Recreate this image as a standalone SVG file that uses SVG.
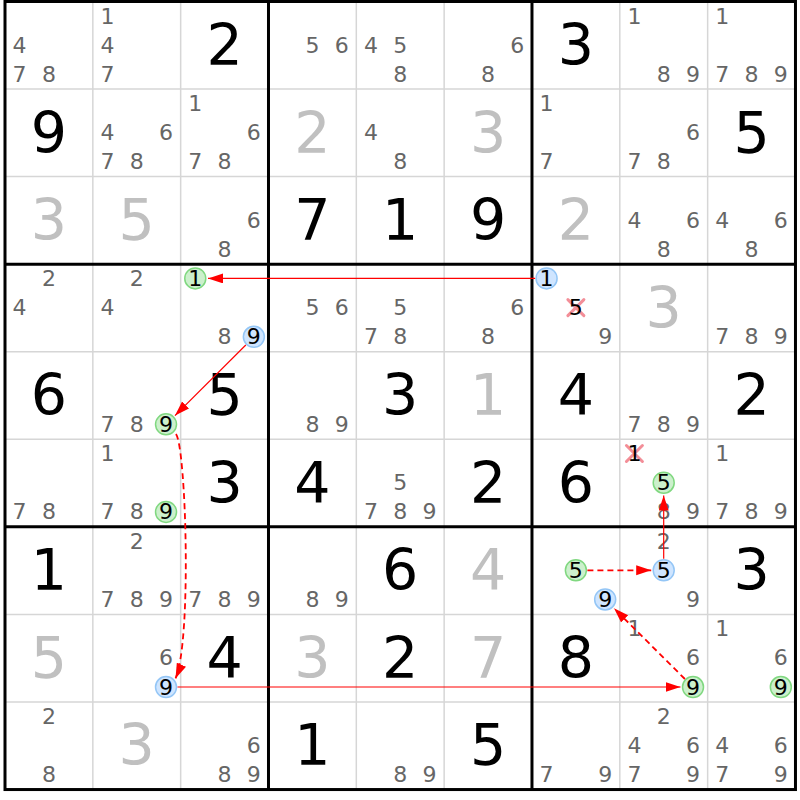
<svg xmlns="http://www.w3.org/2000/svg" width="800" height="800" viewBox="0 0 800 800">
<style>
text{font-family:"DejaVu Sans","Liberation Sans",sans-serif;text-anchor:middle}
.g{font-size:57px;fill:#000}
.s{font-size:57px;fill:#c0c0c0}
.c{font-size:22px;fill:#666}
.k{font-size:22px;fill:#000}
.gc{fill:#ccf0cc;stroke:#80d880;stroke-width:1.5}
.bc{fill:#cfe5ff;stroke:#94c6f6;stroke-width:1.5}
.x{stroke:#f38e98;stroke-width:3;fill:none;stroke-linecap:round}
.thin{stroke:#d6d6d6;stroke-width:1.5}
.thick{stroke:#000;stroke-width:3}
.solid{stroke:#ff0000;stroke-width:1.2;fill:none;marker-end:url(#ah)}
.dash{stroke:#ff0000;stroke-width:1.8;fill:none;stroke-dasharray:6 4;marker-end:url(#ah)}
</style>
<defs>
<marker id="ah" markerUnits="userSpaceOnUse" markerWidth="16" markerHeight="11" refX="15" refY="5" orient="auto" viewBox="0 0 16 11">
<path d="M0,0 L15,5 L0,10 z" fill="#ff0000"/>
</marker>
</defs>
<rect width="800" height="800" fill="#fff"/>
<g id="grid">
<g class="thin">
<line x1="92.83" y1="1.5" x2="92.83" y2="789.54"/>
<line x1="180.66" y1="1.5" x2="180.66" y2="789.54"/>
<line x1="356.32" y1="1.5" x2="356.32" y2="789.54"/>
<line x1="444.15" y1="1.5" x2="444.15" y2="789.54"/>
<line x1="619.81" y1="1.5" x2="619.81" y2="789.54"/>
<line x1="707.64" y1="1.5" x2="707.64" y2="789.54"/>
<line x1="5" y1="89.06" x2="795.47" y2="89.06"/>
<line x1="5" y1="176.62" x2="795.47" y2="176.62"/>
<line x1="5" y1="351.74" x2="795.47" y2="351.74"/>
<line x1="5" y1="439.3" x2="795.47" y2="439.3"/>
<line x1="5" y1="614.42" x2="795.47" y2="614.42"/>
<line x1="5" y1="701.98" x2="795.47" y2="701.98"/>
</g>
<g class="thick">
<line x1="268.49" y1="1.5" x2="268.49" y2="789.54"/>
<line x1="531.98" y1="1.5" x2="531.98" y2="789.54"/>
<line x1="5" y1="264.18" x2="795.47" y2="264.18"/>
<line x1="5" y1="526.86" x2="795.47" y2="526.86"/>
<rect x="5" y="1.5" width="790.47" height="788.04" fill="none"/>
</g>
</g>
<g id="cells">
<!-- row 1 -->
<g id="r1c1" transform="translate(5,1.5)"><text class="c" x="14.6" y="51">4</text><text class="c" x="14.6" y="80.2">7</text><text class="c" x="43.9" y="80.2">8</text></g>
<g id="r1c2" transform="translate(92.83,1.5)"><text class="c" x="14.6" y="22">1</text><text class="c" x="14.6" y="51">4</text><text class="c" x="14.6" y="80.2">7</text></g>
<g id="r1c3" transform="translate(180.66,1.5)"><text class="g" x="43.9" y="63.5">2</text></g>
<g id="r1c4" transform="translate(268.49,1.5)"><text class="c" x="43.9" y="51">5</text><text class="c" x="73.2" y="51">6</text></g>
<g id="r1c5" transform="translate(356.32,1.5)"><text class="c" x="14.6" y="51">4</text><text class="c" x="43.9" y="51">5</text><text class="c" x="43.9" y="80.2">8</text></g>
<g id="r1c6" transform="translate(444.15,1.5)"><text class="c" x="73.2" y="51">6</text><text class="c" x="43.9" y="80.2">8</text></g>
<g id="r1c7" transform="translate(531.98,1.5)"><text class="g" x="43.9" y="63.5">3</text></g>
<g id="r1c8" transform="translate(619.81,1.5)"><text class="c" x="14.6" y="22">1</text><text class="c" x="43.9" y="80.2">8</text><text class="c" x="73.2" y="80.2">9</text></g>
<g id="r1c9" transform="translate(707.64,1.5)"><text class="c" x="14.6" y="22">1</text><text class="c" x="14.6" y="80.2">7</text><text class="c" x="43.9" y="80.2">8</text><text class="c" x="73.2" y="80.2">9</text></g>
<!-- row 2 -->
<g id="r2c1" transform="translate(5,89.06)"><text class="g" x="43.9" y="63.5">9</text></g>
<g id="r2c2" transform="translate(92.83,89.06)"><text class="c" x="14.6" y="51">4</text><text class="c" x="73.2" y="51">6</text><text class="c" x="14.6" y="80.2">7</text><text class="c" x="43.9" y="80.2">8</text></g>
<g id="r2c3" transform="translate(180.66,89.06)"><text class="c" x="14.6" y="22">1</text><text class="c" x="73.2" y="51">6</text><text class="c" x="14.6" y="80.2">7</text><text class="c" x="43.9" y="80.2">8</text></g>
<g id="r2c4" transform="translate(268.49,89.06)"><text class="s" x="43.9" y="63.5">2</text></g>
<g id="r2c5" transform="translate(356.32,89.06)"><text class="c" x="14.6" y="51">4</text><text class="c" x="43.9" y="80.2">8</text></g>
<g id="r2c6" transform="translate(444.15,89.06)"><text class="s" x="43.9" y="63.5">3</text></g>
<g id="r2c7" transform="translate(531.98,89.06)"><text class="c" x="14.6" y="22">1</text><text class="c" x="14.6" y="80.2">7</text></g>
<g id="r2c8" transform="translate(619.81,89.06)"><text class="c" x="73.2" y="51">6</text><text class="c" x="14.6" y="80.2">7</text><text class="c" x="43.9" y="80.2">8</text></g>
<g id="r2c9" transform="translate(707.64,89.06)"><text class="g" x="43.9" y="63.5">5</text></g>
<!-- row 3 -->
<g id="r3c1" transform="translate(5,176.62)"><text class="s" x="43.9" y="63.5">3</text></g>
<g id="r3c2" transform="translate(92.83,176.62)"><text class="s" x="43.9" y="63.5">5</text></g>
<g id="r3c3" transform="translate(180.66,176.62)"><text class="c" x="73.2" y="51">6</text><text class="c" x="43.9" y="80.2">8</text></g>
<g id="r3c4" transform="translate(268.49,176.62)"><text class="g" x="43.9" y="63.5">7</text></g>
<g id="r3c5" transform="translate(356.32,176.62)"><text class="g" x="43.9" y="63.5">1</text></g>
<g id="r3c6" transform="translate(444.15,176.62)"><text class="g" x="43.9" y="63.5">9</text></g>
<g id="r3c7" transform="translate(531.98,176.62)"><text class="s" x="43.9" y="63.5">2</text></g>
<g id="r3c8" transform="translate(619.81,176.62)"><text class="c" x="14.6" y="51">4</text><text class="c" x="73.2" y="51">6</text><text class="c" x="43.9" y="80.2">8</text></g>
<g id="r3c9" transform="translate(707.64,176.62)"><text class="c" x="14.6" y="51">4</text><text class="c" x="73.2" y="51">6</text><text class="c" x="43.9" y="80.2">8</text></g>
<!-- row 4 -->
<g id="r4c1" transform="translate(5,264.18)"><text class="c" x="43.9" y="22">2</text><text class="c" x="14.6" y="51">4</text></g>
<g id="r4c2" transform="translate(92.83,264.18)"><text class="c" x="43.9" y="22">2</text><text class="c" x="14.6" y="51">4</text></g>
<g id="r4c3" transform="translate(180.66,264.18)"><circle class="gc" cx="14.6" cy="14.2" r="10.5"/><text class="k" x="14.6" y="22">1</text><text class="c" x="43.9" y="80.2">8</text><circle class="bc" cx="73.2" cy="72.6" r="10.5"/><text class="k" x="73.2" y="80.2">9</text></g>
<g id="r4c4" transform="translate(268.49,264.18)"><text class="c" x="43.9" y="51">5</text><text class="c" x="73.2" y="51">6</text></g>
<g id="r4c5" transform="translate(356.32,264.18)"><text class="c" x="43.9" y="51">5</text><text class="c" x="14.6" y="80.2">7</text><text class="c" x="43.9" y="80.2">8</text></g>
<g id="r4c6" transform="translate(444.15,264.18)"><text class="c" x="73.2" y="51">6</text><text class="c" x="43.9" y="80.2">8</text></g>
<g id="r4c7" transform="translate(531.98,264.18)"><circle class="bc" cx="14.6" cy="14.2" r="10.5"/><text class="k" x="14.6" y="22">1</text><path class="x" d="M35.9,35.4 L51.9,51.4 M51.9,35.4 L35.9,51.4"/><text class="k" x="43.9" y="51">5</text><text class="c" x="73.2" y="80.2">9</text></g>
<g id="r4c8" transform="translate(619.81,264.18)"><text class="s" x="43.9" y="63.5">3</text></g>
<g id="r4c9" transform="translate(707.64,264.18)"><text class="c" x="14.6" y="80.2">7</text><text class="c" x="43.9" y="80.2">8</text><text class="c" x="73.2" y="80.2">9</text></g>
<!-- row 5 -->
<g id="r5c1" transform="translate(5,351.74)"><text class="g" x="43.9" y="63.5">6</text></g>
<g id="r5c2" transform="translate(92.83,351.74)"><text class="c" x="14.6" y="80.2">7</text><text class="c" x="43.9" y="80.2">8</text><circle class="gc" cx="73.2" cy="72.6" r="10.5"/><text class="k" x="73.2" y="80.2">9</text></g>
<g id="r5c3" transform="translate(180.66,351.74)"><text class="g" x="43.9" y="63.5">5</text></g>
<g id="r5c4" transform="translate(268.49,351.74)"><text class="c" x="43.9" y="80.2">8</text><text class="c" x="73.2" y="80.2">9</text></g>
<g id="r5c5" transform="translate(356.32,351.74)"><text class="g" x="43.9" y="63.5">3</text></g>
<g id="r5c6" transform="translate(444.15,351.74)"><text class="s" x="43.9" y="63.5">1</text></g>
<g id="r5c7" transform="translate(531.98,351.74)"><text class="g" x="43.9" y="63.5">4</text></g>
<g id="r5c8" transform="translate(619.81,351.74)"><text class="c" x="14.6" y="80.2">7</text><text class="c" x="43.9" y="80.2">8</text><text class="c" x="73.2" y="80.2">9</text></g>
<g id="r5c9" transform="translate(707.64,351.74)"><text class="g" x="43.9" y="63.5">2</text></g>
<!-- row 6 -->
<g id="r6c1" transform="translate(5,439.3)"><text class="c" x="14.6" y="80.2">7</text><text class="c" x="43.9" y="80.2">8</text></g>
<g id="r6c2" transform="translate(92.83,439.3)"><text class="c" x="14.6" y="22">1</text><text class="c" x="14.6" y="80.2">7</text><text class="c" x="43.9" y="80.2">8</text><circle class="gc" cx="73.2" cy="72.6" r="10.5"/><text class="k" x="73.2" y="80.2">9</text></g>
<g id="r6c3" transform="translate(180.66,439.3)"><text class="g" x="43.9" y="63.5">3</text></g>
<g id="r6c4" transform="translate(268.49,439.3)"><text class="g" x="43.9" y="63.5">4</text></g>
<g id="r6c5" transform="translate(356.32,439.3)"><text class="c" x="43.9" y="51">5</text><text class="c" x="14.6" y="80.2">7</text><text class="c" x="43.9" y="80.2">8</text><text class="c" x="73.2" y="80.2">9</text></g>
<g id="r6c6" transform="translate(444.15,439.3)"><text class="g" x="43.9" y="63.5">2</text></g>
<g id="r6c7" transform="translate(531.98,439.3)"><text class="g" x="43.9" y="63.5">6</text></g>
<g id="r6c8" transform="translate(619.81,439.3)"><path class="x" d="M6.6,6.2 L22.6,22.2 M22.6,6.2 L6.6,22.2"/><text class="k" x="14.6" y="22">1</text><circle class="gc" cx="43.9" cy="43.4" r="10.5"/><text class="k" x="43.9" y="51">5</text><text class="c" x="43.9" y="80.2">8</text><text class="c" x="73.2" y="80.2">9</text></g>
<g id="r6c9" transform="translate(707.64,439.3)"><text class="c" x="14.6" y="22">1</text><text class="c" x="14.6" y="80.2">7</text><text class="c" x="43.9" y="80.2">8</text><text class="c" x="73.2" y="80.2">9</text></g>
<!-- row 7 -->
<g id="r7c1" transform="translate(5,526.86)"><text class="g" x="43.9" y="63.5">1</text></g>
<g id="r7c2" transform="translate(92.83,526.86)"><text class="c" x="43.9" y="22">2</text><text class="c" x="14.6" y="80.2">7</text><text class="c" x="43.9" y="80.2">8</text><text class="c" x="73.2" y="80.2">9</text></g>
<g id="r7c3" transform="translate(180.66,526.86)"><text class="c" x="14.6" y="80.2">7</text><text class="c" x="43.9" y="80.2">8</text><text class="c" x="73.2" y="80.2">9</text></g>
<g id="r7c4" transform="translate(268.49,526.86)"><text class="c" x="43.9" y="80.2">8</text><text class="c" x="73.2" y="80.2">9</text></g>
<g id="r7c5" transform="translate(356.32,526.86)"><text class="g" x="43.9" y="63.5">6</text></g>
<g id="r7c6" transform="translate(444.15,526.86)"><text class="s" x="43.9" y="63.5">4</text></g>
<g id="r7c7" transform="translate(531.98,526.86)"><circle class="gc" cx="43.9" cy="43.4" r="10.5"/><text class="k" x="43.9" y="51">5</text><circle class="bc" cx="73.2" cy="72.6" r="10.5"/><text class="k" x="73.2" y="80.2">9</text></g>
<g id="r7c8" transform="translate(619.81,526.86)"><text class="c" x="43.9" y="22">2</text><circle class="bc" cx="43.9" cy="43.4" r="10.5"/><text class="k" x="43.9" y="51">5</text><text class="c" x="73.2" y="80.2">9</text></g>
<g id="r7c9" transform="translate(707.64,526.86)"><text class="g" x="43.9" y="63.5">3</text></g>
<!-- row 8 -->
<g id="r8c1" transform="translate(5,614.42)"><text class="s" x="43.9" y="63.5">5</text></g>
<g id="r8c2" transform="translate(92.83,614.42)"><text class="c" x="73.2" y="51">6</text><circle class="bc" cx="73.2" cy="72.6" r="10.5"/><text class="k" x="73.2" y="80.2">9</text></g>
<g id="r8c3" transform="translate(180.66,614.42)"><text class="g" x="43.9" y="63.5">4</text></g>
<g id="r8c4" transform="translate(268.49,614.42)"><text class="s" x="43.9" y="63.5">3</text></g>
<g id="r8c5" transform="translate(356.32,614.42)"><text class="g" x="43.9" y="63.5">2</text></g>
<g id="r8c6" transform="translate(444.15,614.42)"><text class="s" x="43.9" y="63.5">7</text></g>
<g id="r8c7" transform="translate(531.98,614.42)"><text class="g" x="43.9" y="63.5">8</text></g>
<g id="r8c8" transform="translate(619.81,614.42)"><text class="c" x="14.6" y="22">1</text><text class="c" x="73.2" y="51">6</text><circle class="gc" cx="73.2" cy="72.6" r="10.5"/><text class="k" x="73.2" y="80.2">9</text></g>
<g id="r8c9" transform="translate(707.64,614.42)"><text class="c" x="14.6" y="22">1</text><text class="c" x="73.2" y="51">6</text><circle class="gc" cx="73.2" cy="72.6" r="10.5"/><text class="k" x="73.2" y="80.2">9</text></g>
<!-- row 9 -->
<g id="r9c1" transform="translate(5,701.98)"><text class="c" x="43.9" y="22">2</text><text class="c" x="43.9" y="80.2">8</text></g>
<g id="r9c2" transform="translate(92.83,701.98)"><text class="s" x="43.9" y="63.5">3</text></g>
<g id="r9c3" transform="translate(180.66,701.98)"><text class="c" x="73.2" y="51">6</text><text class="c" x="43.9" y="80.2">8</text><text class="c" x="73.2" y="80.2">9</text></g>
<g id="r9c4" transform="translate(268.49,701.98)"><text class="g" x="43.9" y="63.5">1</text></g>
<g id="r9c5" transform="translate(356.32,701.98)"><text class="c" x="43.9" y="80.2">8</text><text class="c" x="73.2" y="80.2">9</text></g>
<g id="r9c6" transform="translate(444.15,701.98)"><text class="g" x="43.9" y="63.5">5</text></g>
<g id="r9c7" transform="translate(531.98,701.98)"><text class="c" x="14.6" y="80.2">7</text><text class="c" x="73.2" y="80.2">9</text></g>
<g id="r9c8" transform="translate(619.81,701.98)"><text class="c" x="43.9" y="22">2</text><text class="c" x="14.6" y="51">4</text><text class="c" x="73.2" y="51">6</text><text class="c" x="14.6" y="80.2">7</text><text class="c" x="73.2" y="80.2">9</text></g>
<g id="r9c9" transform="translate(707.64,701.98)"><text class="c" x="14.6" y="51">4</text><text class="c" x="73.2" y="51">6</text><text class="c" x="14.6" y="80.2">7</text><text class="c" x="73.2" y="80.2">9</text></g>
</g>
<g id="connectors">
<path class="solid" d="M535.1,278.4 L208,278.4"/>
<path class="solid" d="M245.8,345 L175,415.6"/>
<path class="dash" d="M176,434 C186,448 192,640 175.5,678.5"/>
<path class="solid" d="M177.5,687 L680.5,687"/>
<path class="dash" d="M684.9,679 L614,608.3"/>
<path class="dash" d="M587.4,570.3 L651.2,570.3"/>
<path class="solid" d="M663.7,558.8 L663.7,495.6"/>
</g>
</svg>
